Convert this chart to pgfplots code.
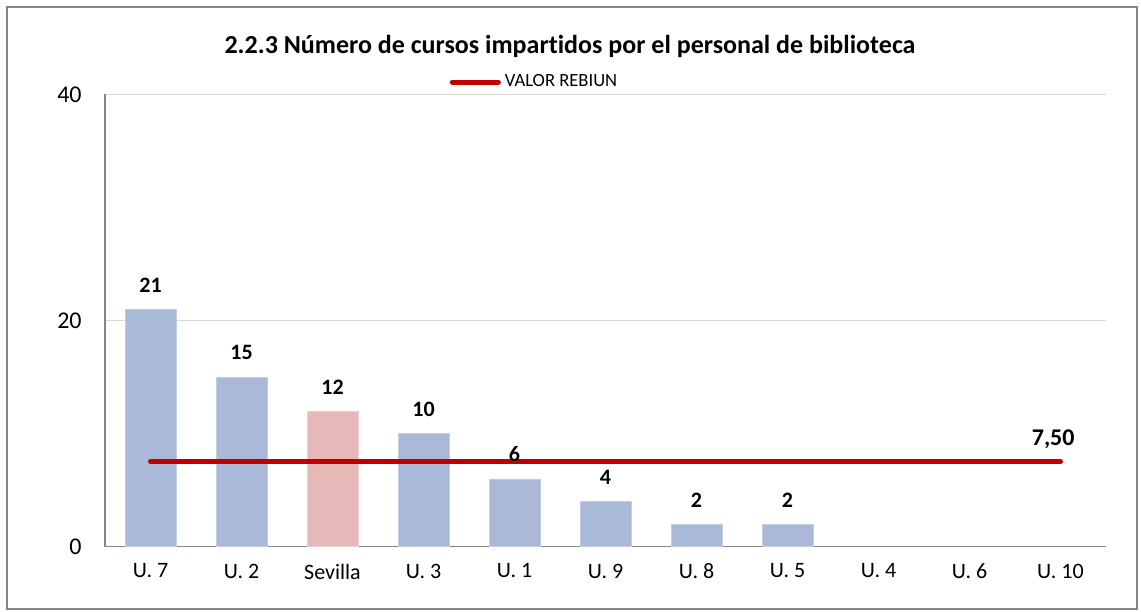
\documentclass[border=0pt]{standalone}
\usepackage{pgfplots}
\pgfplotsset{compat=1.18}
\usepackage{fontspec}
\setmainfont{Carlito}[Ligatures={NoCommon}]
\definecolor{barblue}{HTML}{AAB9D7}
\definecolor{barpink}{HTML}{E6B8B7}
\definecolor{redline}{HTML}{C00000}
\definecolor{axgray}{HTML}{868686}
\definecolor{gridgray}{HTML}{D9D9D9}
\begin{document}
\begin{tikzpicture}
\useasboundingbox (0pt,0pt) rectangle (570.5pt,-305.5pt);
\draw[axgray, line width=0.6pt] (3.5pt,-3.5pt) rectangle (568.5pt,-304.5pt);
\node[font=\fontsize{13}{16}\selectfont\bfseries, anchor=base] at (285pt,-26.5pt) {2.2.3 Número de cursos impartidos por el personal de biblioteca};
\begin{axis}[
  at={(52.5pt,-273.35pt)}, anchor=south west,
  scale only axis, width=500.5pt, height=226.2pt,
  xmin=-0.5, xmax=10.5, ymin=0, ymax=40,
  xtick={0,...,10},
  xticklabels={U. 7,U. 2,Sevilla,U. 3,U. 1,U. 9,U. 8,U. 5,U. 4,U. 6,U. 10},
  ytick={0,20,40},
  axis x line=bottom, axis y line=left,
  axis line style={-, axgray, line width=0.75pt},
  major tick length=0pt,
  ymajorgrids, grid style={gridgray, line width=0.75pt},
  /pgf/number format/assume math mode=true,
  xticklabel style={font=\fontsize{11}{13}\selectfont, yshift=-5pt},
  yticklabel style={font=\fontsize{12}{14}\selectfont, inner sep=0pt, anchor=east, xshift=-11.5pt},
  bar width=0.56,
  legend style={draw=none, fill=none, at={(0.3445,1.0272)}, anchor=west,
    inner sep=0pt, outer sep=0pt, column sep=2pt, font=\fontsize{9.3}{11}\selectfont,
    nodes={inner sep=0pt}},
  legend image code/.code={\draw[#1, line cap=round, line width=2.5pt] (0pt,0pt) -- (23pt,0pt);},
  nodes near coords style={font=\fontsize{11}{13}\selectfont\bfseries, anchor=south, yshift=5pt},
]
\addplot[ybar, bar shift=0pt, fill=barblue, draw=barblue!70!white, line width=0.3pt, nodes near coords, forget plot]
  coordinates {(0,21) (1,15) (3,10) (4,6) (5,4) (6,2) (7,2)};
\addplot[ybar, bar shift=0pt, fill=barpink, draw=barpink!70!white, line width=0.3pt, nodes near coords, forget plot]
  coordinates {(2,12)};
\addplot[redline, line width=2.5pt, line cap=round, mark=none] coordinates {(0,7.5) (10,7.5)};
\addlegendentry{VALOR REBIUN}
\node[anchor=south, yshift=3pt] at (axis cs:9.92,7.5) {\fontsize{12}{14}\selectfont\textbf{7,50}};
\end{axis}
\end{tikzpicture}
\end{document}
